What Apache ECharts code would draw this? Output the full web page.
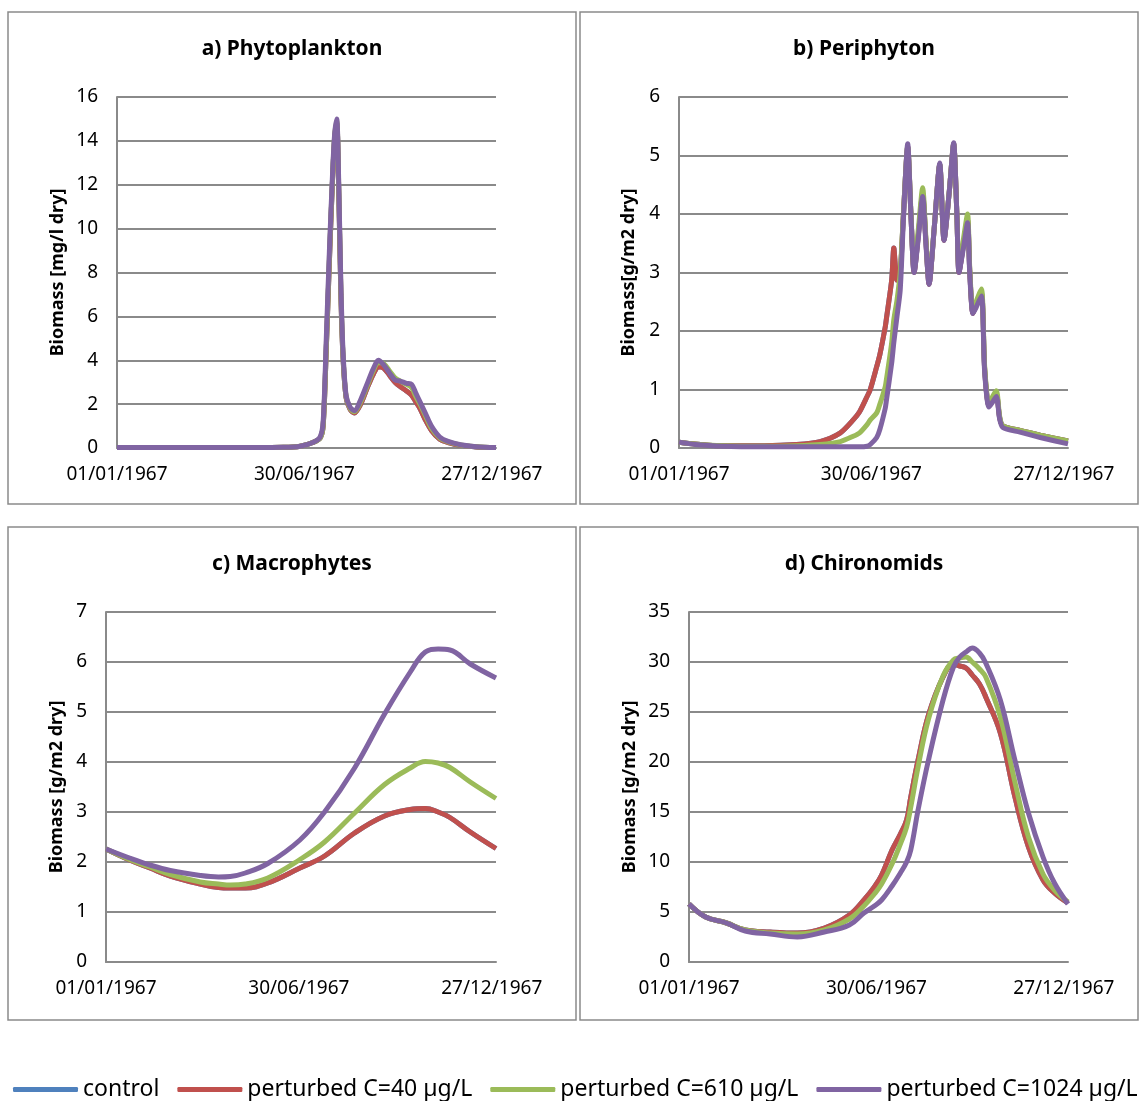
<!DOCTYPE html>
<html>
<head>
<meta charset="utf-8">
<script src="https://cdn.jsdelivr.net/npm/echarts@6/dist/echarts.min.js"></script>
<style>
  html, body { margin: 0; padding: 0; background: #fff; }
  #main { width: 1140px; height: 1101px; }
</style>
</head>
<body>
<div id="main"></div>
<script>
  // x is day of year 1967 (0 = 01/01/1967)
  var tickDays = [0, 180, 360]
  var tickLabels = ['01/01/1967', '30/06/1967', '27/12/1967']

  var seriesNames = ['control', 'perturbed C=40 \u00b5g/L', 'perturbed C=610 \u00b5g/L', 'perturbed C=1024 \u00b5g/L']
  var colors = ['#4f81bd', '#c0504d', '#9bbb59', '#8064a2']

  // a) Phytoplankton [mg/l dry]
  var phytoDays = [0, 60, 120, 160, 176, 188, 195, 198, 201, 204, 207, 209, 211, 213, 215, 217, 220, 224, 228, 234,
    240, 246, 251, 256, 262, 267, 272, 278, 283, 287, 291, 296, 302, 310, 318, 330, 345, 364]
  var phytoC40 = [0.02, 0.02, 0.02, 0.03, 0.08, 0.25, 0.45, 1.0, 4.5, 8.5, 12.2, 14.1, 14.8, 11.6, 7.0, 4.2, 2.3, 1.75, 1.6, 2.0,
    2.7, 3.35, 3.7, 3.65, 3.3, 3.0, 2.8, 2.6, 2.4, 2.1, 1.8, 1.3, 0.8, 0.4, 0.25, 0.12, 0.05, 0.02]
  var phytoC610 = [0.02, 0.02, 0.02, 0.03, 0.08, 0.25, 0.45, 1.05, 4.6, 8.7, 12.3, 14.2, 14.9, 11.8, 7.2, 4.3, 2.35, 1.8, 1.65, 2.1,
    2.8, 3.5, 3.9, 3.85, 3.5, 3.2, 3.05, 2.9, 2.75, 2.35, 2.0, 1.5, 0.9, 0.45, 0.28, 0.14, 0.06, 0.02]
  var phytoC1024 = [0.02, 0.02, 0.02, 0.03, 0.08, 0.25, 0.5, 1.2, 5.0, 9.0, 12.5, 14.3, 15.0, 12.0, 7.5, 4.5, 2.4, 1.85, 1.7, 2.2,
    2.9, 3.6, 4.0, 3.8, 3.4, 3.1, 3.05, 2.95, 2.9, 2.5, 2.1, 1.6, 1.0, 0.5, 0.3, 0.15, 0.06, 0.02]

  // b) Periphyton [g/m2 dry]
  var periDays = [0, 15, 40, 80, 110, 132, 151, 163, 169, 176, 179, 185, 188, 193, 194, 199, 201, 204, 207, 210,
    214, 217, 220, 224, 228, 231, 234, 239, 244, 248, 253, 257, 260, 262, 266, 270, 272, 275, 278, 283,
    286, 290, 294, 297, 300, 303, 319, 338, 364]
  var periC40 = [0.1, 0.07, 0.04, 0.04, 0.06, 0.11, 0.26, 0.48, 0.62, 0.88, 1.0, 1.39, 1.6, 2.07, 2.2, 2.87, 3.42, 2.87, 3.0, 4.0,
    5.15, 4.0, 3.0, 3.65, 4.35, 3.55, 2.8, 3.8, 4.85, 3.55, 4.4, 5.2, 4.0, 3.0, 3.45, 3.9, 3.05, 2.3, 2.45, 2.65,
    1.35, 0.72, 0.85, 0.92, 0.52, 0.38, 0.3, 0.22, 0.12]
  var periC610 = [0.1, 0.07, 0.04, 0.03, 0.04, 0.06, 0.11, 0.2, 0.26, 0.4, 0.48, 0.6, 0.75, 1.05, 1.16, 1.8, 2.19, 2.53, 3.0, 4.0,
    5.15, 4.05, 3.05, 3.75, 4.45, 3.6, 2.85, 3.8, 4.85, 3.6, 4.4, 5.2, 4.0, 3.05, 3.55, 4.0, 3.1, 2.35, 2.5, 2.72,
    1.4, 0.75, 0.9, 0.98, 0.55, 0.38, 0.3, 0.22, 0.12]
  var periC1024 = [0.1, 0.06, 0.03, 0.02, 0.02, 0.02, 0.02, 0.02, 0.02, 0.03, 0.06, 0.18, 0.32, 0.68, 0.8, 1.45, 1.8, 2.25, 2.7, 3.9,
    5.2, 4.0, 3.0, 3.6, 4.3, 3.5, 2.8, 3.8, 4.87, 3.55, 4.4, 5.22, 4.0, 3.0, 3.4, 3.85, 3.0, 2.3, 2.4, 2.6,
    1.3, 0.7, 0.8, 0.88, 0.5, 0.35, 0.27, 0.18, 0.07]

  // c) Macrophytes [g/m2 dry]
  var macroDays = [0, 22, 41, 60, 88, 105, 116, 130, 151, 181, 204, 232, 260, 284, 298, 310, 321, 340, 364]
  var macroC40 = [2.26, 2.04, 1.88, 1.72, 1.56, 1.49, 1.48, 1.48, 1.58, 1.88, 2.12, 2.58, 2.92, 3.05, 3.07, 3.0, 2.89, 2.6, 2.27]
  var macroC610 = [2.26, 2.05, 1.9, 1.75, 1.6, 1.56, 1.54, 1.56, 1.68, 2.05, 2.4, 2.98, 3.55, 3.88, 4.01, 3.98, 3.89, 3.6, 3.27]
  var macroC1024 = [2.26, 2.08, 1.94, 1.83, 1.73, 1.7, 1.71, 1.78, 1.97, 2.44, 3.0, 3.88, 4.96, 5.8, 6.2, 6.26, 6.24, 5.96, 5.68]

  // d) Chironomids [g/m2 dry]
  var chiroDays = [0, 16, 36, 54, 78, 104, 130, 154, 168, 178, 185, 195, 203, 209, 213, 220, 230, 244, 254, 260,
    266, 272, 279, 285, 299, 313, 326, 340, 351, 364]
  var chiroC40 = [5.8, 4.5, 3.9, 3.2, 3.0, 2.9, 3.4, 4.7, 6.2, 7.5, 8.7, 11.2, 12.8, 14.2, 16.5, 20.2, 24.7, 28.5, 29.8, 29.6,
    29.4, 28.7, 27.8, 26.5, 22.9, 16.5, 11.5, 8.2, 6.9, 5.9]
  var chiroC610 = [5.8, 4.5, 3.9, 3.2, 2.9, 2.8, 3.2, 4.3, 5.6, 6.8, 7.8, 9.8, 11.8, 13.5, 15.5, 19.5, 24.3, 28.6, 30.2, 30.4,
    30.5, 30.0, 29.3, 28.5, 24.5, 18.0, 12.5, 8.8, 7.2, 6.0]
  var chiroC1024 = [5.8, 4.5, 3.9, 3.1, 2.8, 2.5, 3.0, 3.7, 4.9, 5.6, 6.2, 7.6, 8.9, 10.0, 11.2, 15.2, 20.2, 26.2, 29.5, 30.5,
    31.0, 31.4, 30.9, 29.9, 26.2, 20.2, 14.9, 10.5, 7.9, 5.8]

  var FONT = 'Noto Sans'
  var GRAY = '#8a8a8a'

  // control is hidden under the C=40 line in every panel
  var panels = [
    { title: 'a) Phytoplankton', yName: 'Biomass [mg/l dry]', max: 16, interval: 2, nameGap: 50, smooth: 0.3,
      grid: { left: 117, top: 97, width: 379, height: 351 }, box: [8, 12, 568, 492], cx: 292, cy: 49,
      days: phytoDays, values: [phytoC40, phytoC40, phytoC610, phytoC1024] },
    { title: 'b) Periphyton', yName: 'Biomass[g/m2 dry]', max: 6, interval: 1, nameGap: 41, smooth: 0.25,
      grid: { left: 679, top: 97, width: 389, height: 351 }, box: [580, 12, 558, 492], cx: 864, cy: 49,
      days: periDays, values: [periC40, periC40, periC610, periC1024] },
    { title: 'c) Macrophytes', yName: 'Biomass [g/m2 dry]', max: 7, interval: 1, nameGap: 40, smooth: 0.4,
      grid: { left: 106, top: 612, width: 390, height: 350 }, box: [8, 527, 568, 493], cx: 292, cy: 564,
      days: macroDays, values: [macroC40, macroC40, macroC610, macroC1024] },
    { title: 'd) Chironomids', yName: 'Biomass [g/m2 dry]', max: 35, interval: 5, nameGap: 50, smooth: 0.4,
      grid: { left: 689, top: 612, width: 379, height: 350 }, box: [580, 527, 558, 493], cx: 864, cy: 564,
      days: chiroDays, values: [chiroC40, chiroC40, chiroC610, chiroC1024] }
  ]

  function pairs (days, vals) {
    return days.map(function (d, i) { return [d, vals[i]] })
  }

  var grids = []
  var xAxes = []
  var yAxes = []
  var series = []
  var graphics = []

  panels.forEach(function (p, pi) {
    grids.push(p.grid)
    xAxes.push({
      type: 'value',
      gridIndex: pi,
      min: 0,
      max: 364,
      interval: 180,
      axisLine: { show: true, lineStyle: { color: GRAY, width: 2 } },
      axisTick: { show: false },
      splitLine: { show: false },
      axisLabel: {
        color: '#000',
        fontFamily: FONT,
        fontSize: 19,
        margin: 17,
        formatter: function (v) {
          var k = tickDays.indexOf(v)
          return k >= 0 ? tickLabels[k] : ''
        }
      }
    })
    yAxes.push({
      type: 'value',
      gridIndex: pi,
      min: 0,
      max: p.max,
      interval: p.interval,
      name: p.yName,
      nameLocation: 'middle',
      nameGap: p.nameGap,
      nameTextStyle: { color: '#000', fontFamily: FONT, fontSize: 18, fontWeight: 'bold' },
      axisLine: { show: true, lineStyle: { color: GRAY, width: 2 } },
      axisTick: { show: false },
      splitLine: { show: true, lineStyle: { color: GRAY, width: 2 } },
      axisLabel: { color: '#000', fontFamily: FONT, fontSize: 19, margin: 19 }
    })
    seriesNames.forEach(function (name, si) {
      series.push({
        name: name,
        type: 'line',
        xAxisIndex: pi,
        yAxisIndex: pi,
        data: pairs(p.days, p.values[si]),
        smooth: p.smooth,
        showSymbol: false,
        symbol: 'none',
        color: colors[si],
        lineStyle: { width: 5, color: colors[si] },
        animation: false
      })
    })
    graphics.push({
      type: 'rect',
      z: -1,
      shape: { x: p.box[0], y: p.box[1], width: p.box[2], height: p.box[3] },
      style: { fill: 'none', stroke: GRAY, lineWidth: 1.5 }
    })
    graphics.push({
      type: 'text',
      x: p.cx,
      y: p.cy,
      style: {
        text: p.title,
        fill: '#000',
        font: 'bold 21px "Noto Sans"',
        align: 'center',
        verticalAlign: 'middle',
        textAlign: 'center',
        textVerticalAlign: 'middle'
      }
    })
  })

  var chart = echarts.init(document.getElementById('main'))
  chart.setOption({
    animation: false,
    backgroundColor: '#fff',
    grid: grids,
    xAxis: xAxes,
    yAxis: yAxes,
    legend: {
      data: seriesNames,
      left: 8,
      top: 1073,
      width: 1500,
      icon: 'roundRect',
      itemWidth: 65,
      itemHeight: 5,
      itemGap: 18,
      textStyle: { color: '#000', fontFamily: FONT, fontSize: 23 },
      selectedMode: false
    },
    graphic: graphics,
    series: series
  })
</script>
</body>
</html>
